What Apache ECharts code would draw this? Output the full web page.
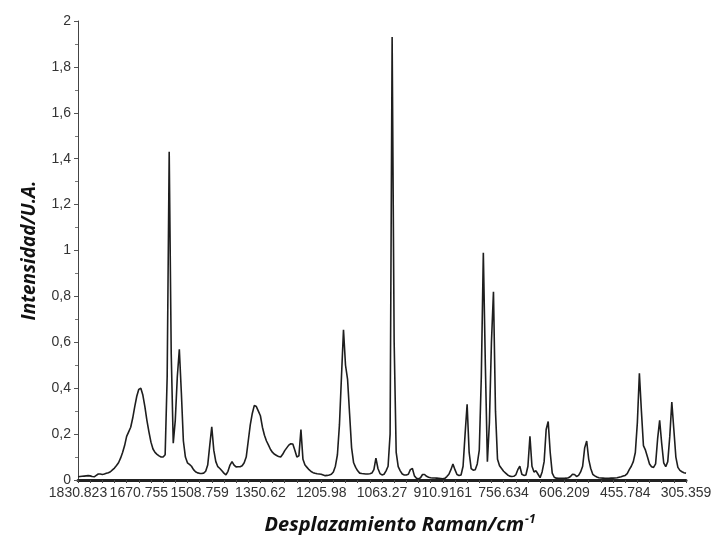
<!DOCTYPE html>
<html>
<head>
<meta charset="utf-8">
<title>Espectro Raman</title>
<script src="https://cdn.jsdelivr.net/npm/echarts@6/dist/echarts.min.js"></script>
<style>
  html, body { margin: 0; padding: 0; background: #ffffff; }
  #chart { width: 712px; height: 535px; }
</style>
</head>
<body>
<div id="chart"></div>
<script>
// Raman shift labels shown under the axis (cm-1), one every 30 samples
const ramanShiftLabels = [
  '1830.823', '1670.755', '1508.759', '1350.62', '1205.98', '1063.27',
  '910.9161', '756.634', '606.209', '455.784', '305.359'
];
const samplesPerLabel = 30;

// Intensity (U.A.), sampled uniformly from 1830.823 down to 305.359 cm-1
const intensity = [
  // 1830 -> 1670
  0.014, 0.015, 0.016, 0.017, 0.018, 0.019, 0.018, 0.015, 0.014, 0.020,
  0.026, 0.026, 0.024, 0.026, 0.029, 0.032, 0.036, 0.044, 0.052, 0.063,
  0.075, 0.095, 0.120, 0.150, 0.190, 0.210, 0.230, 0.270, 0.320, 0.365,
  // 1670 -> 1508
  0.395, 0.400, 0.370, 0.320, 0.260, 0.210, 0.165, 0.135, 0.120, 0.112,
  0.105, 0.100, 0.100, 0.110, 0.450, 1.430, 0.550, 0.160, 0.260, 0.450,
  0.570, 0.380, 0.170, 0.100, 0.075, 0.068, 0.060, 0.045, 0.036, 0.031,
  // 1508 -> 1350
  0.029, 0.028, 0.030, 0.038, 0.065, 0.150, 0.232, 0.130, 0.080, 0.058,
  0.050, 0.040, 0.030, 0.022, 0.038, 0.065, 0.080, 0.065, 0.057, 0.058,
  0.058, 0.062, 0.075, 0.100, 0.170, 0.240, 0.290, 0.325, 0.320, 0.300,
  // 1350 -> 1205
  0.280, 0.230, 0.195, 0.170, 0.152, 0.133, 0.120, 0.112, 0.107, 0.102,
  0.100, 0.112, 0.128, 0.140, 0.152, 0.158, 0.157, 0.130, 0.100, 0.105,
  0.220, 0.090, 0.065, 0.055, 0.045, 0.037, 0.032, 0.029, 0.027, 0.026,
  // 1205 -> 1063
  0.025, 0.022, 0.019, 0.020, 0.022, 0.025, 0.035, 0.060, 0.110, 0.240,
  0.450, 0.655, 0.500, 0.440, 0.290, 0.140, 0.075, 0.055, 0.040, 0.030,
  0.028, 0.027, 0.026, 0.026, 0.027, 0.030, 0.045, 0.095, 0.050, 0.028,
  // 1063 -> 910
  0.022, 0.025, 0.040, 0.060, 0.200, 1.930, 0.600, 0.120, 0.058, 0.040,
  0.026, 0.022, 0.022, 0.025, 0.045, 0.050, 0.018, 0.008, 0.005, 0.010,
  0.024, 0.024, 0.016, 0.012, 0.010, 0.009, 0.009, 0.008, 0.007, 0.006,
  // 910 -> 756
  0.005, 0.007, 0.015, 0.025, 0.045, 0.070, 0.045, 0.024, 0.020, 0.022,
  0.060, 0.200, 0.330, 0.120, 0.050, 0.043, 0.045, 0.070, 0.130, 0.450,
  0.990, 0.500, 0.080, 0.250, 0.600, 0.820, 0.300, 0.090, 0.062, 0.050,
  // 756 -> 606
  0.038, 0.030, 0.022, 0.017, 0.015, 0.016, 0.022, 0.045, 0.060, 0.025,
  0.020, 0.022, 0.060, 0.190, 0.060, 0.035, 0.040, 0.025, 0.010, 0.035,
  0.080, 0.220, 0.255, 0.120, 0.030, 0.012, 0.008, 0.007, 0.007, 0.007,
  // 606 -> 455
  0.007, 0.008, 0.010, 0.015, 0.025, 0.024, 0.015, 0.020, 0.035, 0.060,
  0.140, 0.170, 0.090, 0.050, 0.025, 0.018, 0.013, 0.010, 0.009, 0.008,
  0.007, 0.007, 0.007, 0.008, 0.008, 0.009, 0.010, 0.012, 0.014, 0.017,
  // 455 -> 305
  0.020, 0.028, 0.045, 0.060, 0.080, 0.120, 0.250, 0.465, 0.300, 0.150,
  0.130, 0.100, 0.070, 0.058, 0.055, 0.070, 0.180, 0.260, 0.160, 0.075,
  0.058, 0.080, 0.190, 0.340, 0.220, 0.100, 0.055, 0.042, 0.036, 0.032,
  0.030
];

// Sample indices used as the category axis
const sampleIndex = intensity.map((_, i) => String(i));

const axisFont = 'Liberation Sans, Arial, sans-serif';
const titleFont = 'Open Sans, sans-serif';

const chart = echarts.init(document.getElementById('chart'), null, { renderer: 'canvas' });

chart.setOption({
  animation: false,
  backgroundColor: '#ffffff',
  grid: { left: 78, right: 26, top: 21, bottom: 55, containLabel: false, outerBoundsMode: 'none' },
  xAxis: {
    type: 'category',
    data: sampleIndex,
    boundaryGap: false,
    axisLine: { show: true, lineStyle: { color: '#222222', width: 3 } },
    axisTick: {
      show: true,
      interval: 5,
      length: 3,
      inside: false,
      lineStyle: { color: '#444444', width: 1 }
    },
    axisLabel: {
      interval: samplesPerLabel - 1,
      margin: 6,
      color: '#333333',
      fontFamily: axisFont,
      fontSize: 14,
      formatter: (v, idx) => ramanShiftLabels[idx / samplesPerLabel]
    },
    splitLine: { show: false },
    name: '{main|Desplazamiento Raman/cm}{sup|-1}',
    nameLocation: 'middle',
    nameGap: 34,
    nameTextStyle: {
      padding: [0, 0, 0, 36],
      rich: {
        main: { fontFamily: titleFont, fontSize: 20, fontWeight: 'bold', fontStyle: 'italic', color: '#111111' },
        sup: { fontFamily: titleFont, fontSize: 12, fontWeight: 'bold', fontStyle: 'italic', color: '#111111', padding: [0, 0, 11, 1] }
      }
    }
  },
  yAxis: {
    type: 'value',
    min: 0,
    max: 2,
    interval: 0.2,
    axisLine: { show: true, lineStyle: { color: '#444444', width: 1 } },
    axisTick: { show: true, length: 4, lineStyle: { color: '#555555' } },
    minorTick: { show: true, splitNumber: 2, length: 3, lineStyle: { color: '#777777' } },
    axisLabel: {
      margin: 7,
      color: '#333333',
      fontFamily: axisFont,
      fontSize: 14,
      formatter: (v) => String(+v.toFixed(1)).replace('.', ',')
    },
    splitLine: { show: false },
    name: 'Intensidad/U.A.',
    nameLocation: 'middle',
    nameGap: 39,
    nameTextStyle: {
      fontFamily: titleFont,
      fontSize: 19,
      fontWeight: 'bold',
      fontStyle: 'italic',
      color: '#111111'
    }
  },
  series: [{
    type: 'line',
    data: intensity,
    showSymbol: false,
    smooth: false,
    lineStyle: { color: '#1e1e1e', width: 1.6 },
    z: 3
  }]
});
</script>
</body>
</html>
